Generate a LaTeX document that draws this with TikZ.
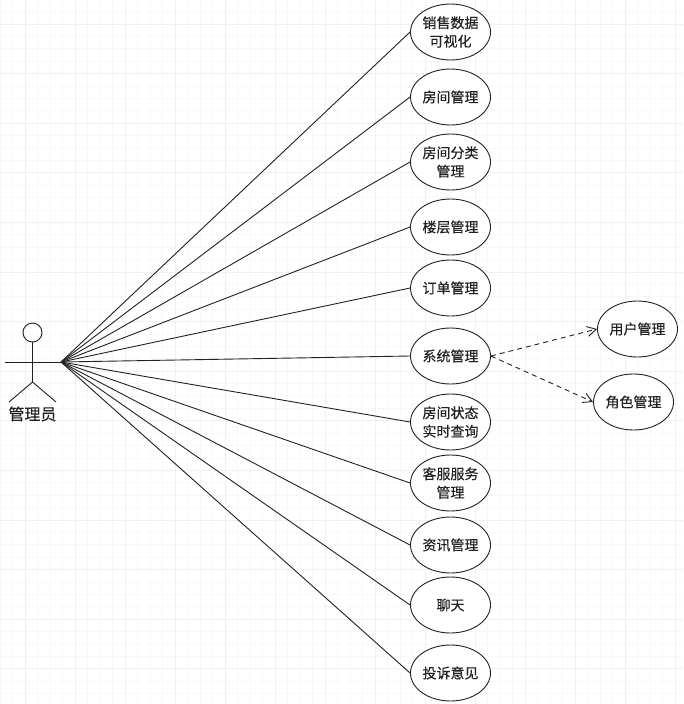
\documentclass[tikz,border=0pt]{standalone}
\usepackage{fontspec}
\setmainfont[FakeBold=0.25]{Noto Sans CJK SC}
\usetikzlibrary{arrows.meta,shapes.geometric}
\definecolor{ink}{HTML}{222222}
\definecolor{gridminor}{HTML}{F8F8F8}
\definecolor{gridmajor}{HTML}{F0F0F0}
\tikzset{
  usecase/.style={draw=ink,fill=white,ellipse,line width=0.9pt,minimum width=80pt,minimum height=56pt,inner sep=0pt,align=center,font=\fontsize{14}{18.5}\selectfont,text=ink},
  assoc/.style={draw=ink,line width=0.9pt},
  dep/.style={draw=ink,line width=0.9pt,dash pattern=on 5pt off 4pt,-{Straight Barb[length=9pt,width=10pt]}},
  stick/.style={draw=ink,line width=0.9pt}
}
\begin{document}
\begin{tikzpicture}[x=1pt,y=-1pt]
\useasboundingbox (0,0) rectangle (683,704);
\fill[white] (0,0) rectangle (683,704);
\foreach \i in {0,...,55}{\draw[gridminor,line width=0.9pt] (\i*12.5,0) -- (\i*12.5,704);}
\foreach \i in {0,...,57}{\draw[gridminor,line width=0.9pt] (0,\i*12.4-0.8) -- (683,\i*12.4-0.8);}
\foreach \i in {0,...,13}{\draw[gridmajor,line width=0.9pt] (\i*50+25,0) -- (\i*50+25,704);}
\foreach \i in {0,...,14}{\draw[gridmajor,line width=0.9pt] (0,\i*49.6+24) -- (683,\i*49.6+24);}
\node[usecase] (u1) at (450.5,32) {销售数据\\可视化};
\node[usecase] (u2) at (450.5,97) {房间管理};
\node[usecase] (u3) at (450.5,162) {房间分类\\管理};
\node[usecase] (u4) at (450.5,227) {楼层管理};
\node[usecase] (u5) at (450.5,288) {订单管理};
\node[usecase] (u6) at (450.5,356) {系统管理};
\node[usecase] (u7) at (450.5,422) {房间状态\\实时查询};
\node[usecase] (u8) at (450.5,483) {客服服务\\管理};
\node[usecase] (u9) at (450.5,545) {资讯管理};
\node[usecase] (u10) at (450.5,605) {聊天};
\node[usecase] (u11) at (450.5,673) {投诉意见};
\node[usecase] (r1) at (637.5,329) {用户管理};
\node[usecase] (r2) at (633.5,402) {角色管理};
\coordinate (hand) at (61,362);
\foreach \n in {1,...,11}{\draw[assoc] (hand) -- (u\n.west);}
\draw[dep] (u6.east) -- (r1.west);
\draw[dep] (u6.east) -- (r2.west);
\node[draw=ink,line width=0.9pt,circle,minimum size=19pt,inner sep=0pt] (head) at (32.5,332.5) {};
\coordinate (waist) at (32.5,382);
\coordinate (la) at (5,362);
\coordinate (lf) at (9,402);
\coordinate (rf) at (56,402);
\draw[stick] (head) -- (waist);
\draw[stick] (la) -- (hand);
\draw[stick] (lf) -- (waist) -- (rf);
\node[font=\fontsize{16}{18}\selectfont,text=ink,inner sep=0pt] (actor) at (32.5,414) {管理员};
\end{tikzpicture}
\end{document}
